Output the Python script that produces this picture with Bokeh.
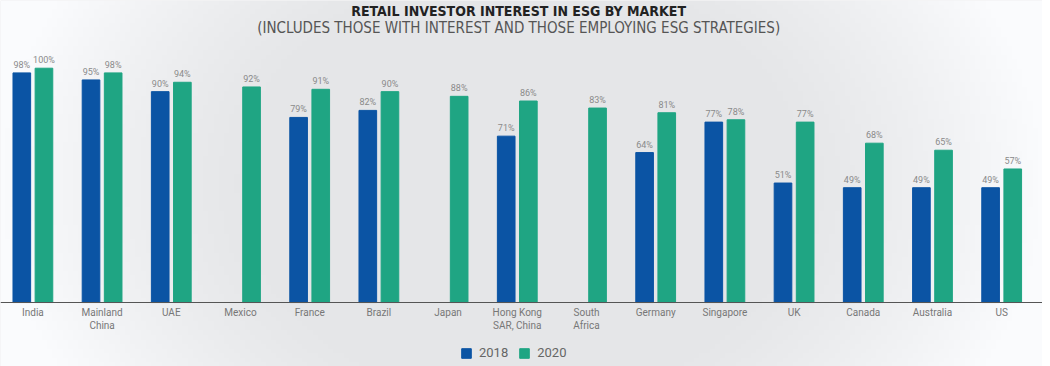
import numpy as np
from bokeh.plotting import figure
from bokeh.models import ColumnDataSource, Range1d, Label, Legend, LegendItem, FixedTicker
from bokeh.core.properties import value
from bokeh.embed import file_html
from bokeh.resources import INLINE

markets = ["India", "Mainland\nChina", "UAE", "Mexico", "France", "Brazil", "Japan",
           "Hong Kong\nSAR, China", "South\nAfrica", "Germany", "Singapore", "UK",
           "Canada", "Australia", "US"]
v2018 = [98, 95, 90, None, 79, 82, None, 71, None, 64, 77, 51, 49, 49, 49]
v2020 = [100, 98, 94, 92, 91, 90, 88, 86, 83, 81, 78, 77, 68, 65, 57]

BLUE = "#0b54a4"
GREEN = "#1fa583"
LBL = "#8a8a8a"

idx = np.arange(len(markets))
off = 0.16
bw = 0.255

def mk(vals, dx):
    xs, ys, ts = [], [], []
    for i, v in zip(idx, vals):
        if v is not None:
            xs.append(i + dx); ys.append(v); ts.append(f"{v}%")
    return ColumnDataSource(dict(x=xs, top=ys, t=ts))

s18 = mk(v2018, -off)
s20 = mk(v2020, off)

X0, X1 = -0.468, 14.590
Y0, Y1 = -27.3, 128.9

p = figure(frame_width=1042, frame_height=366, output_backend="svg", toolbar_location=None,
           x_range=Range1d(X0, X1), y_range=Range1d(Y0, Y1),
           min_border_left=0, min_border_right=0, min_border_top=0, min_border_bottom=0)

# background gradient (decorative)
W, H = 200, 80
xs = np.linspace(-1, 1, W)
ys = np.linspace(-1, 1, H)
X, Y = np.meshgrid(xs, ys)
d = np.clip(np.sqrt((X * 1.0) ** 2 + (Y * 0.45) ** 2), 0, 1)
t = np.clip((d - 0.5) / 0.5, 0, 1) ** 1.3
c0 = np.array([229, 230, 232]); c1 = np.array([250, 251, 253])
img = np.zeros((H, W), dtype=np.uint32)
view = img.view(dtype=np.uint8).reshape((H, W, 4))
for k in range(3):
    view[:, :, k] = (c0[k] + (c1[k] - c0[k]) * t).astype(np.uint8)
view[:, :, 3] = 255
p.image_rgba(image=[img], x=X0, y=Y0, dw=X1 - X0, dh=Y1 - Y0)

r18 = p.vbar(x="x", top="top", width=bw, source=s18, color=BLUE)
r20 = p.vbar(x="x", top="top", width=bw, source=s20, color=GREEN)

for s in (s18, s20):
    p.text(x="x", y="top", text="t", source=s, text_align="center", text_baseline="bottom",
           y_offset=-3, text_font=value("Roboto"), text_font_size="9px", text_color=LBL)

p.add_layout(Label(x=7.02, y=128.0, text="RETAIL INVESTOR INTEREST IN ESG BY MARKET",
                   text_align="center", text_baseline="top", text_font="DejaVu Sans Condensed",
                   text_font_style="bold", text_font_size="14px", text_color="#222222"))
p.add_layout(Label(x=7.02, y=121.0, text="(INCLUDES THOSE WITH INTEREST AND THOSE EMPLOYING ESG STRATEGIES)",
                   text_align="center", text_baseline="top", text_font="DejaVu Sans Condensed",
                   text_font_size="15px", text_color="#555555"))

p.grid.visible = False
p.yaxis.visible = False
p.outline_line_color = None
p.background_fill_color = "#e9eaec"
p.border_fill_color = "#f0f1f2"

ax = p.xaxis[0]
ax.fixed_location = 0
ax.ticker = FixedTicker(ticks=list(idx))
ax.major_label_overrides = {int(i): m for i, m in zip(idx, markets)}
ax.major_tick_line_color = None
ax.minor_tick_line_color = None
ax.major_tick_out = 0
ax.major_tick_in = 0
ax.axis_line_color = "#555555"
ax.axis_line_width = 1.2
ax.major_label_text_font = "Roboto"
ax.major_label_text_font_size = "10px"
ax.major_label_text_color = "#777777"
ax.major_label_standoff = 4

legend = Legend(items=[LegendItem(label="2018", renderers=[r18]),
                       LegendItem(label="2020", renderers=[r20])],
                orientation="horizontal", location=(460, 6),
                glyph_width=12, glyph_height=12, label_height=14, label_text_font="Roboto",
                label_text_font_size="13px", label_text_color="#666666",
                background_fill_alpha=0, border_line_color=None,
                padding=0, margin=0, spacing=10, label_standoff=7)
p.add_layout(legend, "center")

open("out.html", "w").write(file_html(p, INLINE))
